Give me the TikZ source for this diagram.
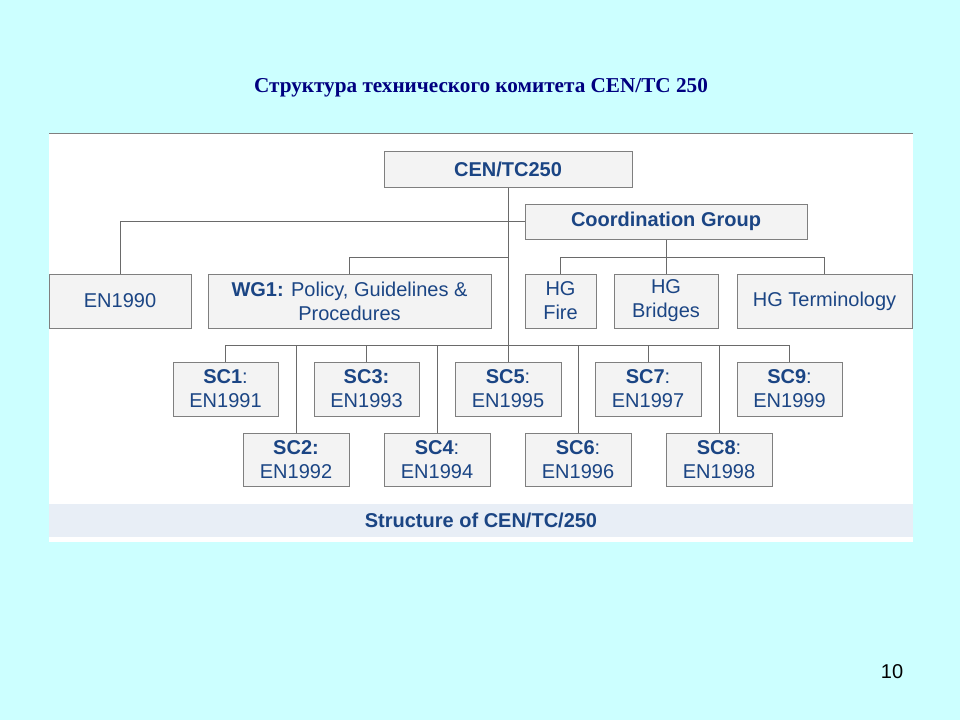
\documentclass[tikz,border=0pt]{standalone}
\usepackage{fontspec}
\setmainfont{Liberation Sans}
\newfontfamily\titlefont{Liberation Serif}
\definecolor{bgcyan}{HTML}{CCFFFF}
\definecolor{txtblue}{HTML}{1B4584}
\definecolor{navy}{HTML}{000080}
\definecolor{boxfill}{HTML}{F3F3F3}
\definecolor{boxline}{HTML}{7F7F7F}
\definecolor{connline}{HTML}{6A6A6A}
\definecolor{capbg}{HTML}{E8EEF6}
\begin{document}
\begin{tikzpicture}[x=1pt,y=-1pt,
  orgbox/.style={draw=boxline, fill=boxfill, line width=1pt, inner sep=0pt,
    text=txtblue, align=center, font=\fontsize{20}{24}\selectfont},
  conn/.style={draw=connline, line width=1pt}]
\useasboundingbox (0,0) rectangle (960,720);
\fill[bgcyan] (0,0) rectangle (960,720);
% panel
\fill[white] (49,133) rectangle (913,542);
\draw[boxline, line width=1pt] (49,133) -- (913,133);
\fill[capbg] (49,504) rectangle (913,537);
\node[text=txtblue, font=\fontsize{20}{24}\selectfont\bfseries] (cap) at (481,520) {Structure of CEN/TC/250};
% title
\node[text=navy, font=\titlefont\fontsize{21.2}{25}\selectfont\bfseries] (title) at (481,88) {Структура технического комитета CEN/TC 250};
\node[font=\fontsize{20}{24}\selectfont] (pnum) at (892,672) {10};
% bus levels
\coordinate (b2) at (0,257);
\coordinate (b3) at (0,345);
% boxes
\node[orgbox, minimum width=248, minimum height=36] (cen) at (508,169) {\bfseries CEN/TC250};
\node[orgbox, minimum width=282, minimum height=35] (cg) at (666,221.5) {\bfseries Coordination Group};
\node[orgbox, minimum width=142, minimum height=54] (en1990) at (120,301) {EN1990};
\node[orgbox, minimum width=283, minimum height=54] (wg1) at (349.5,301) {\textbf{WG1:} Policy, Guidelines \&\\Procedures};
\node[orgbox, minimum width=71, minimum height=54] (hgf) at (560.5,301) {HG\\Fire};
\node[orgbox, minimum width=104, minimum height=54] (hgb) at (666,301) {HG\\Bridges};
\node[orgbox, minimum width=175, minimum height=54] (hgt) at (824.5,301) {HG Terminology};
\node[orgbox, minimum width=105, minimum height=54] (sc1) at (225.5,389) {\textbf{SC1}:\\EN1991};
\node[orgbox, minimum width=105, minimum height=54] (sc3) at (366.5,389) {\textbf{SC3:}\\EN1993};
\node[orgbox, minimum width=106, minimum height=54] (sc5) at (508,389) {\textbf{SC5}:\\EN1995};
\node[orgbox, minimum width=106, minimum height=54] (sc7) at (648,389) {\textbf{SC7}:\\EN1997};
\node[orgbox, minimum width=105, minimum height=54] (sc9) at (789.5,389) {\textbf{SC9}:\\EN1999};
\node[orgbox, minimum width=106, minimum height=53] (sc2) at (296,459.5) {\textbf{SC2:}\\EN1992};
\node[orgbox, minimum width=106, minimum height=53] (sc4) at (437,459.5) {\textbf{SC4}:\\EN1994};
\node[orgbox, minimum width=106, minimum height=53] (sc6) at (578,459.5) {\textbf{SC6}:\\EN1996};
\node[orgbox, minimum width=106, minimum height=53] (sc8) at (719,459.5) {\textbf{SC8}:\\EN1998};
% connectors
\draw[conn] (cen.south) -- (sc5.north);
\draw[conn] (en1990.north) |- (cg.west);
\draw[conn] (wg1.north) |- (cen.south |- b2);
\draw[conn] (cg.south) -- (hgb.north);
\draw[conn] (hgf.north) |- (hgt.north |- b2) -- (hgt.north);
\draw[conn] (sc1.north) |- (sc9.north |- b3) -- (sc9.north);
\foreach \n in {sc3,sc7,sc2,sc4,sc6,sc8}
  \draw[conn] (\n.north) -- (\n.north |- b3);
\end{tikzpicture}
\end{document}
